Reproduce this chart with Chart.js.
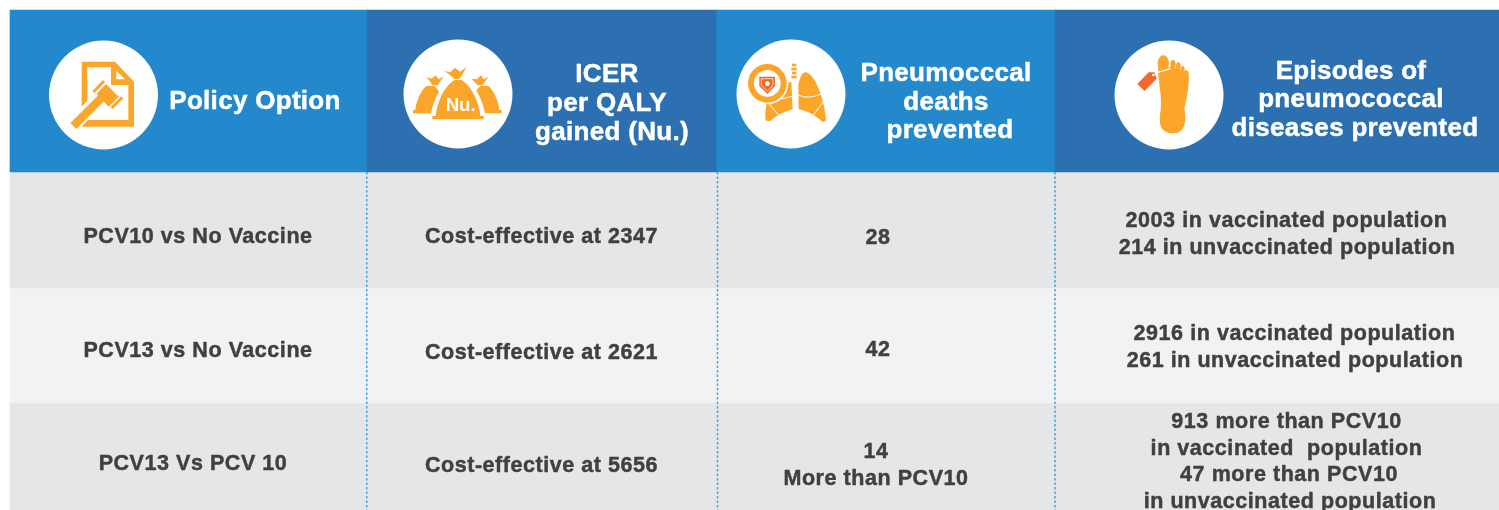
<!DOCTYPE html>
<html><head><meta charset="utf-8">
<style>html,body{margin:0;padding:0;background:#fff;overflow:hidden}canvas{display:block}</style>
<script src="https://cdn.jsdelivr.net/npm/chart.js@4/dist/chart.umd.js"></script>
</head><body>
<canvas id="c" width="1499" height="510"></canvas>
<script>
// ---- table content ----
const headerLabels = [["Policy Option"],["ICER","per QALY","gained (Nu.)"],["Pneumocccal","deaths","prevented"],["Episodes of","pneumococcal","diseases prevented"]];
const policyOptions = ["PCV10 vs No Vaccine","PCV13 vs No Vaccine","PCV13 Vs PCV 10"];
const icerValues = ["Cost-effective at 2347","Cost-effective at 2621","Cost-effective at 5656"];
const deathsPrevented = [["28"],["42"],["14","More than PCV10"]];
const episodesPrevented = [
  ["2003 in vaccinated population","214 in unvaccinated population"],
  ["2916 in vaccinated population","261 in unvaccinated population"],
  ["913 more than PCV10","in vaccinated  population","47 more than PCV10","in unvaccinated population"]
];
// ---- layout ----
const colEdges = [10,367,717,1055,1499];
const dividerX = [366.7,717.5,1055];
const rowBands = [{y:91,h:162},{y:230,h:116},{y:345.5,h:115},{y:456.5,h:107}];
const circles = [{x:103.5,y:95},{x:458,y:94},{x:791,y:94},{x:1169,y:95}];
const COL = {hA:'#2489cc',hB:'#2c70b1',r1:'#e5e6e8',r2:'#f1f2f4',dot:'#4aa3dc',txt:'#3f4042',or:'#fca52b',red:'#f26a2a'};
const headFont = {font:'bold 26px "Liberation Sans"',ls:'0.3px',sw:0.5};
const bodyFont = {font:'bold 21.5px "Liberation Sans"',ls:'0.55px',sw:0.45};
const textDy = 1.6;
const textItems = [
  {l:headerLabels[0],cx:[255],ys:[100],f:headFont,c:'#fff'},
  {l:headerLabels[1],cx:[607,607,612],ys:[73,102,131],f:headFont,c:'#fff'},
  {l:headerLabels[2],cx:[946,946,950],ys:[72,101,129],f:headFont,c:'#fff'},
  {l:headerLabels[3],cx:[1351,1351,1355],ys:[70,98,127],f:headFont,c:'#fff'},
  {l:[policyOptions[0]],cx:[198],ys:[235]},
  {l:[policyOptions[1]],cx:[198],ys:[349]},
  {l:[policyOptions[2]],cx:[193],ys:[462]},
  {l:[icerValues[0]],cx:[541.5],ys:[235]},
  {l:[icerValues[1]],cx:[541.5],ys:[351]},
  {l:[icerValues[2]],cx:[541.5],ys:[464]},
  {l:deathsPrevented[0],cx:[878],ys:[236]},
  {l:deathsPrevented[1],cx:[878],ys:[348]},
  {l:deathsPrevented[2],cx:[876,876],ys:[450,477]},
  {l:episodesPrevented[0],cx:[1286.5,1287],ys:[219,246]},
  {l:episodesPrevented[1],cx:[1294.5,1295],ys:[332,359]},
  {l:episodesPrevented[2],cx:[1286.5,1286.5,1289,1290],ys:[420,447,473,500]}
];
function bandDataset(band,colors){
  return {type:'bar',order:5,grouped:false,barThickness:band.h,backgroundColor:colors,borderWidth:0,
    data:colEdges.slice(0,-1).map((e,i)=>({x:[e,colEdges[i+1]],y:band.y}))};
}
function poly(ctx,pts){ctx.beginPath();pts.forEach((p,i)=>i?ctx.lineTo(p[0],p[1]):ctx.moveTo(p[0],p[1]));ctx.closePath();}
function seg(ctx,a,b,w,col){ctx.strokeStyle=col;ctx.lineWidth=w;ctx.lineCap='butt';ctx.beginPath();ctx.moveTo(a[0],a[1]);ctx.lineTo(b[0],b[1]);ctx.stroke();}
function iconDoc(ctx){
  ctx.fillStyle=COL.or;
  poly(ctx,[[155,95],[255,95],[312,155],[312,290],[155,290]]);ctx.fill();
  ctx.fillStyle='#fff';
  poly(ctx,[[172,112],[243,112],[243,165],[295,165],[295,270],[172,270]]);ctx.fill();
  poly(ctx,[[259,122],[285,148],[259,148]]);ctx.fill();
  poly(ctx,[[150,245],[172,235],[172,272],[150,295]]);ctx.fill();
  seg(ctx,[118,290],[215,192],32,'#fff');
  seg(ctx,[130,288],[215,203],25,COL.or);
  ctx.fillStyle=COL.or;
  poly(ctx,[[200,192],[228,162],[266,200],[236,230]]);ctx.fill();
  seg(ctx,[190,186],[222,153],9,COL.or);
  seg(ctx,[245,234],[277,202],9,COL.or);
}
function bag(ctx,cx,base,w,top,neckW){
  const h=base-top;
  ctx.beginPath();
  ctx.moveTo(cx-neckW,top);
  ctx.bezierCurveTo(cx-w*0.6,top+h*0.2,cx-w*0.82,top+h*0.6,cx-w*0.87,base-10);
  ctx.lineTo(cx-w,base-10);ctx.lineTo(cx-w,base);ctx.lineTo(cx+w,base);ctx.lineTo(cx+w,base-10);ctx.lineTo(cx+w*0.87,base-10);
  ctx.bezierCurveTo(cx+w*0.82,top+h*0.6,cx+w*0.6,top+h*0.2,cx+neckW,top);
  ctx.closePath();ctx.fill();
}
function iconBags(ctx){
  ctx.fillStyle=COL.or;
  poly(ctx,[[95,141],[110,146],[122,136],[131,148],[146,139],[133,158],[128,166],[113,166]]);ctx.fill();
  poly(ctx,[[230,146],[245,148],[258,136],[266,148],[281,140],[268,158],[262,166],[248,166]]);ctx.fill();
  bag(ctx,106,250,52,168,12);
  bag(ctx,268,250,52,168,12);
  ctx.fillStyle='#fff';
  ctx.beginPath();ctx.moveTo(178,140);ctx.bezierCurveTo(135,160,112,215,104,272);ctx.lineTo(274,272);ctx.bezierCurveTo(266,215,243,160,198,140);ctx.closePath();ctx.fill();
  ctx.fillStyle=COL.or;
  poly(ctx,[[147,122],[165,127],[180,113],[195,125],[214,112],[200,138],[192,147],[178,147],[165,135]]);ctx.fill();
  bag(ctx,189,268,77,150,11);
  ctx.fillStyle='#fff';ctx.font='bold 56px "Liberation Sans"';ctx.textAlign='center';ctx.textBaseline='middle';
  ctx.fillText('Nu.',197,228);
}
function iconLungs(ctx){
  ctx.fillStyle=COL.or;
  [105,117,129,141].forEach((y,i)=>{ctx.fillRect(i%2?184:186,y-4,i%2?16:13,8);});
  ctx.beginPath();ctx.moveTo(206,238);ctx.lineTo(205,165);ctx.bezierCurveTo(210,135,220,125,228,127);
  ctx.bezierCurveTo(258,135,285,215,288,272);ctx.lineTo(278,276);ctx.bezierCurveTo(262,262,240,245,206,238);ctx.closePath();ctx.fill();
  ctx.beginPath();ctx.moveTo(188,238);ctx.lineTo(184,155);ctx.lineTo(130,175);ctx.lineTo(112,210);ctx.bezierCurveTo(106,235,104,260,108,272);
  ctx.lineTo(120,274);ctx.bezierCurveTo(135,260,160,245,188,238);ctx.closePath();ctx.fill();
  ctx.strokeStyle='#fff';ctx.lineWidth=3;
  [[[125,205],[160,210],[190,198]],[[205,195],[235,210],[278,190]]].forEach(p=>{ctx.beginPath();ctx.moveTo(p[0][0],p[0][1]);ctx.quadraticCurveTo(p[1][0],p[1][1],p[2][0],p[2][1]);ctx.stroke();});
  seg(ctx,[112,215],[145,255],3,'#fff');seg(ctx,[280,215],[250,255],3,'#fff');
  ctx.fillStyle='#fff';ctx.beginPath();ctx.arc(112,160,63,0,7);ctx.fill();
  ctx.fillStyle=COL.or;ctx.beginPath();ctx.arc(112,160,58,0,7);ctx.fill();
  ctx.fillStyle='#fff';ctx.beginPath();ctx.arc(112,160,40,0,7);ctx.fill();
  ctx.fillStyle=COL.red;poly(ctx,[[88,140],[135,140],[135,168],[112,192],[88,168]]);ctx.fill();
  ctx.strokeStyle='#fff';ctx.lineWidth=2;poly(ctx,[[94,146],[129,146],[129,166],[112,184],[94,166]]);ctx.stroke();
  ctx.fillStyle='#fff';ctx.beginPath();ctx.arc(112,161,7,0,7);ctx.fill();
}
function iconFoot(ctx){
  ctx.fillStyle=COL.or;
  ctx.beginPath();ctx.ellipse(175,100,17,24,0,0,7);ctx.fill();
  [[204,105,8,15],[220,110,7,13],[233,120,6,12],[244,131,6,11]].forEach(t=>{ctx.beginPath();ctx.ellipse(t[0],t[1],t[2],t[3],0,0,7);ctx.fill();});
  ctx.beginPath();ctx.moveTo(159,112);ctx.lineTo(200,112);ctx.lineTo(251,128);ctx.bezierCurveTo(254,160,246,205,238,235);
  ctx.bezierCurveTo(245,270,242,310,205,310);ctx.bezierCurveTo(165,310,160,280,167,240);
  ctx.bezierCurveTo(172,200,160,160,159,112);ctx.closePath();ctx.fill();
  seg(ctx,[158,127],[197,116],4,'#fff');
  ctx.fillStyle=COL.red;poly(ctx,[[97,162],[131,127],[148,127],[155,146],[119,183]]);ctx.fill();
  ctx.fillStyle='#fff';ctx.beginPath();ctx.arc(145,135,4,0,7);ctx.fill();
}
const icons=[{o:[30,30],d:iconDoc},{o:[395,30],d:iconBags},{o:[730,30],d:iconLungs},{o:[1105,30],d:iconFoot}];
const tablePlugin={id:'tableText',afterDatasetsDraw(chart){
  const {ctx,scales:{x,y}}=chart;
  icons.forEach(ic=>{ctx.save();ctx.translate(x.getPixelForValue(ic.o[0]),y.getPixelForValue(ic.o[1]));ctx.scale(1/3,1/3);ic.d(ctx);ctx.restore();});
  ctx.save();ctx.textAlign='center';ctx.textBaseline='middle';ctx.lineJoin='round';
  textItems.forEach(t=>{const f=t.f||bodyFont;ctx.font=f.font;ctx.letterSpacing=f.ls;ctx.fillStyle=ctx.strokeStyle=t.c||COL.txt;ctx.lineWidth=f.sw;
    t.l.forEach((s,i)=>{const px=x.getPixelForValue(t.cx[i]),py=y.getPixelForValue(t.ys[i]+textDy);ctx.fillText(s,px,py);ctx.strokeText(s,px,py);});});
  ctx.restore();
}};
const dividers=dividerX.map(v=>({type:'scatter',order:2,showLine:true,pointRadius:0,borderColor:COL.dot,borderWidth:1.5,borderDash:[2.5,2],
  data:[{x:v,y:172},{x:v,y:510}]}));
new Chart(document.getElementById('c'),{
  type:'bar',
  plugins:[tablePlugin],
  data:{datasets:[
    {type:'scatter',order:0,pointRadius:54.5,pointHoverRadius:54.5,backgroundColor:'#fff',borderWidth:0,pointBorderWidth:0,data:circles},
    ...dividers,
    bandDataset(rowBands[0],[COL.hA,COL.hB,COL.hA,COL.hB]),
    bandDataset(rowBands[1],COL.r1),
    bandDataset(rowBands[2],COL.r2),
    bandDataset(rowBands[3],COL.r1)
  ]},
  options:{indexAxis:'y',responsive:false,animation:false,events:[],
    layout:{padding:0,autoPadding:false},
    plugins:{legend:{display:false},tooltip:{enabled:false},title:{display:false}},
    scales:{x:{type:'linear',min:0,max:1499,display:false,offset:false},y:{type:'linear',min:0,max:510,reverse:true,display:false,offset:false}}}
});
</script>
</body></html>
